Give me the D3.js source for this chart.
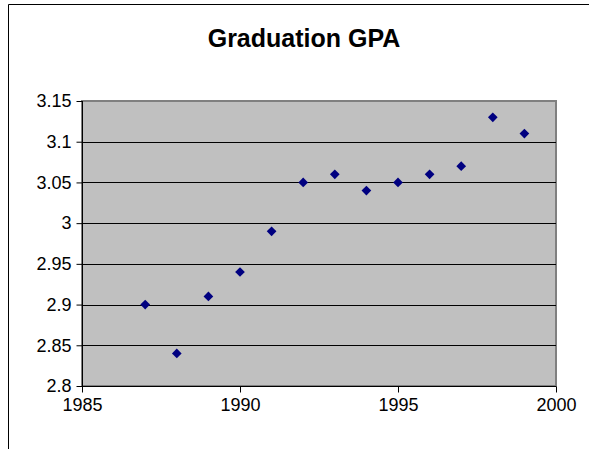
<!DOCTYPE html>
<html><head><meta charset="utf-8">
<script src="https://cdn.jsdelivr.net/npm/d3@7/dist/d3.min.js"></script>
<style>body{margin:0;background:#fff}svg{display:block}</style>
</head><body><svg id="c" width="589" height="449"></svg>
<script>
const years = [1987,1988,1989,1990,1991,1992,1993,1994,1995,1996,1997,1998,1999];
const gpa = [2.90,2.84,2.91,2.94,2.99,3.05,3.06,3.04,3.05,3.06,3.07,3.13,3.11];
const xTicks = [1985,1990,1995,2000];
const yTicks = [2.8,2.85,2.9,2.95,3,3.05,3.1,3.15];
const title = "Graduation GPA";

const svg = d3.select("#c");
const W=589,H=449;
const L=82,R=556,T=101,B=386;
const x = d3.scaleLinear().domain([1985,2000]).range([L,R]);
const y = d3.scaleLinear().domain([2.8,3.15]).range([B,T]);
const font = "Liberation Sans, Arial, sans-serif";

// outer frame
svg.append("path").attr("d",`M8.5,${H} V4.5 H${W}`).attr("fill","none").attr("stroke","#000").attr("stroke-width",1);

svg.append("text").attr("x",304).attr("y",47).attr("text-anchor","middle")
  .attr("font-family",font).attr("font-weight","bold").attr("font-size",25).text(title);

// plot area
svg.append("rect").attr("x",L).attr("y",T).attr("width",R-L).attr("height",B-T)
  .attr("fill","#C0C0C0").attr("stroke","#808080").attr("stroke-width",2);

// gridlines
svg.append("g").selectAll("line").data(yTicks.filter(d=>d>2.8 && d<3.15)).join("line")
  .attr("x1",L).attr("x2",R).attr("y1",d=>Math.round(y(d))+0.5).attr("y2",d=>Math.round(y(d))+0.5)
  .attr("stroke","#000").attr("stroke-width",1);

// axes
const yAxis = d3.axisLeft(y).tickValues(yTicks).tickFormat(d3.format("")).tickSize(6).tickPadding(5);
const gy = svg.append("g").attr("transform",`translate(${L+0.5},0)`).call(yAxis);
const xAxis = d3.axisBottom(x).tickValues(xTicks).tickFormat(d3.format("d")).tickSize(6).tickPadding(6);
const gx = svg.append("g").attr("transform",`translate(0,${B+0.5})`).call(xAxis);
[gx,gy].forEach(g=>{
  g.selectAll(".tick line").attr("stroke","#000");
  g.selectAll("text").attr("font-family",font).attr("font-size",18).attr("fill","#000");
});
gy.select(".domain").remove();
gx.select(".domain").remove();
svg.append("line").attr("x1",L+0.5).attr("x2",L+0.5).attr("y1",T).attr("y2",B+1).attr("stroke","#000");
svg.append("line").attr("x1",L).attr("x2",R).attr("y1",B+0.5).attr("y2",B+0.5).attr("stroke","#000");

// markers
const sym = d3.symbol().type(d3.symbolDiamond2).size(60);
svg.append("g").selectAll("path").data(years.map((d,i)=>({yr:d,v:gpa[i]}))).join("path")
  .attr("d",sym).attr("transform",d=>`translate(${x(d.yr)},${y(d.v)})`).attr("fill","#000080");
</script></body></html>
